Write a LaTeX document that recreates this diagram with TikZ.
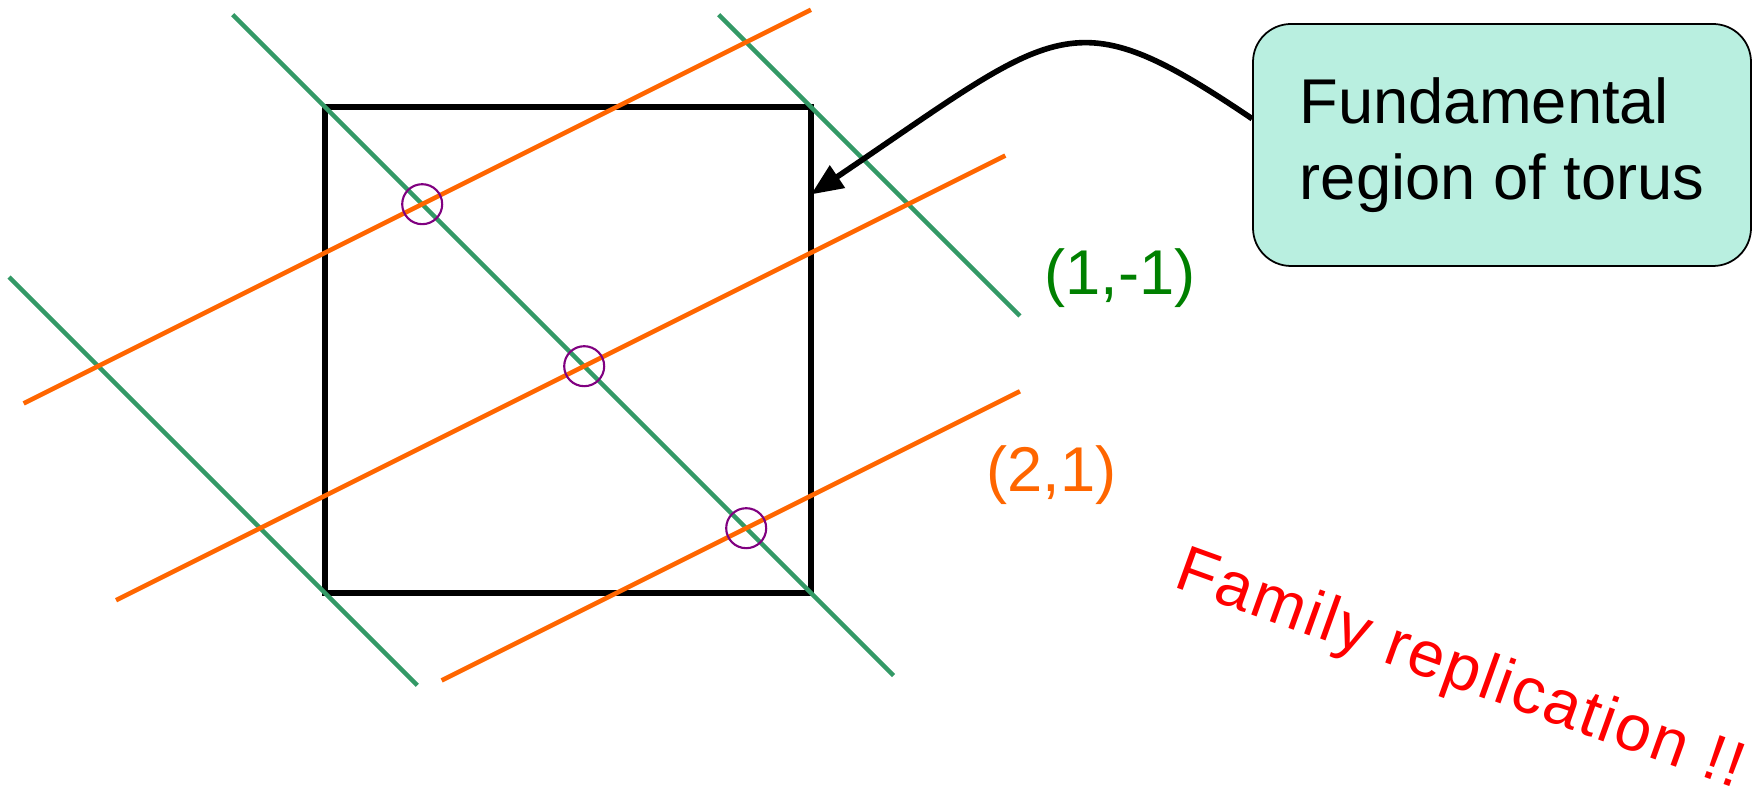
\documentclass[tikz,border=0pt]{standalone}
\usepackage{fontspec}
\setmainfont{Liberation Sans}
\usepackage{xcolor}
\usepackage{tikz}
\usetikzlibrary{arrows.meta, positioning}
\definecolor{torgreen}{HTML}{339966}
\definecolor{torlabel}{HTML}{008000}
\definecolor{torange}{HTML}{FF6600}
\definecolor{torpurple}{HTML}{800080}
\definecolor{torbox}{HTML}{B9EFE0}

\begin{document}
\begin{tikzpicture}[every node/.style={font=\fontsize{18}{21.6}\selectfont, inner sep=0pt},
    greenline/.style={torgreen, line width=1.3pt},
    orangeline/.style={torange, line width=1.3pt},
    ring/.style={torpurple, line width=0.6pt},
    callout/.style={draw, line width=0.5pt, fill=torbox, rounded corners=0.38cm,
      minimum width=4.98cm, minimum height=2.42cm, align=left}]
  \useasboundingbox (0,0) rectangle (17.57,7.91);
  % the fundamental region, one unit square
  \begin{scope}[shift={(3.25,1.98)}, x=4.86cm, y=4.86cm]
    \draw[line width=1.6pt] (0,0) rectangle (1,1);
    \coordinate (tip) at (1.0,0.82);
    % the (1,-1) family: v = c - u
    \foreach \c/\ua/\ub in {0/-0.65/0.19, 1/-0.19/1.17, 2/0.81/1.43}
      \draw[greenline] (\ua,{\c-\ua}) -- (\ub,{\c-\ub});
    % the (2,1) family: v = u/2 + b
    \foreach \b/\ua/\ub in {0.7/-0.62/1.0, 0.2/-0.43/1.4, -0.3/0.24/1.43}
      \draw[orangeline] (\ua,{\ua/2+\b}) -- (\ub,{\ub/2+\b});
    % where the two families meet
    \coordinate (m1) at (0.2,0.8);
    \coordinate (m2) at ({8/15},{7/15});
    \coordinate (m3) at ({13/15},{2/15});
    \foreach \m in {m1,m2,m3}
      \draw[ring] (\m) circle[radius=0.2cm];
  \end{scope}
  \node[torlabel, anchor=base west] (lgreen) at (10.44,4.96) {(1,-1)};
  \node[torange, anchor=base west] (lorange) at (9.86,2.99) {(2,1)};
  \node[callout] (box) at (15.02,6.46) {Fundamental\\region of torus};
  \draw[line width=1.6pt, -{Triangle[length=0.32cm, width=0.26cm]}]
    (box.174) .. controls +(-1.82,1.23) and +(2.49,1.68) .. (tip);
  \node[red, rotate=-19.8, anchor=base west,
    font=\fontsize{18.4}{22}\selectfont\addfontfeature{LetterSpace=3.5}] (family)
    at (11.72,2.05) {Family replication !!};
\end{tikzpicture}
\end{document}
